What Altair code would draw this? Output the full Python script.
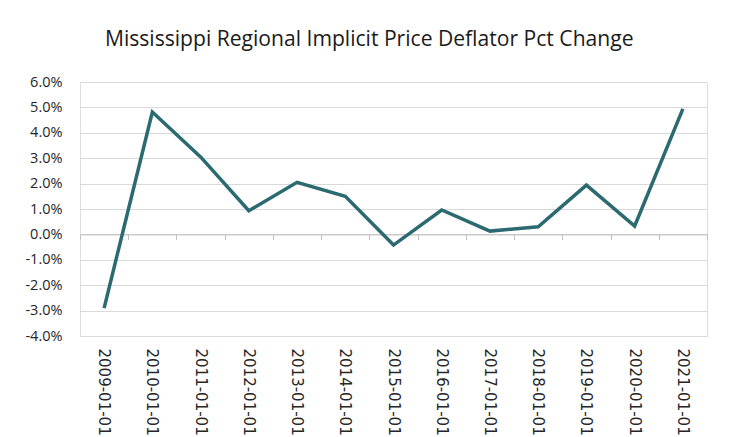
import altair as alt
import pandas as pd

dates = ["2009-01-01", "2010-01-01", "2011-01-01", "2012-01-01", "2013-01-01",
         "2014-01-01", "2015-01-01", "2016-01-01", "2017-01-01", "2018-01-01",
         "2019-01-01", "2020-01-01", "2021-01-01"]
pct_values = [-2.90, 4.82, 3.05, 0.93, 2.05, 1.50, -0.42, 0.96, 0.13, 0.30, 1.94, 0.33, 4.94]
y_ticks = [-0.04, -0.03, -0.02, -0.01, 0.0, 0.01, 0.02, 0.03, 0.04, 0.05, 0.06]

df = pd.DataFrame({"date": dates, "pct": [v / 100 for v in pct_values]})

W, H = 627, 254
TXT = "#262626"

x_scale = alt.Scale(type="band", paddingInner=0, paddingOuter=0)
y_scale = alt.Scale(domain=[-0.04, 0.06], nice=False)

y_enc = alt.Y("pct:Q", scale=y_scale,
              axis=alt.Axis(title=None, values=y_ticks, domain=False, ticks=False,
                            gridColor="#D9D9D9", gridWidth=1, labelPadding=18,
                            labelFontSize=14.5, labelColor=TXT, labelFont="Open Sans",
                            labelExpr="replace(format(datum.value, '.1%'), '\u2212', '-')"))

line = alt.Chart(df).mark_line(color="#2A6A70", strokeWidth=3.5, strokeJoin="miter").encode(
    x=alt.X("date:O", scale=x_scale, bandPosition=0.5,
            axis=alt.Axis(title=None, orient="bottom", labelAngle=90, domain=False, ticks=False,
                          grid=False, labelPadding=12, labelFontSize=15, labelColor=TXT,
                          labelFont="DejaVu Sans", labelAlign="left", labelBaseline="middle")),
    y=y_enc,
)

zero_axis = alt.Chart(df).mark_point(opacity=0).encode(
    x=alt.X("date:O", scale=x_scale, bandPosition=0.5,
            axis=alt.Axis(title=None, orient="bottom", labels=False, domain=True,
                          domainColor="#BFBFBF", domainWidth=1, ticks=True,
                          tickColor="#BFBFBF", tickSize=5, tickBand="extent",
                          offset=-0.4 * H, grid=False)),
    y=y_enc,
)

chart = alt.layer(zero_axis, line).resolve_axis(x="independent").properties(
    width=W, height=H,
    padding={"left": 16, "top": 20, "right": 5, "bottom": 5},
    title=alt.TitleParams("Mississippi Regional Implicit Price Deflator Pct Change",
                          fontSize=21.1, font="Open Sans", color="#1a1a1a", fontWeight="normal",
                          anchor="middle", frame="bounds", offset=24, dx=3),
).configure_view(strokeWidth=0).configure(background="white")

chart.save("out.html", embed_options={"renderer": "svg", "actions": False})
